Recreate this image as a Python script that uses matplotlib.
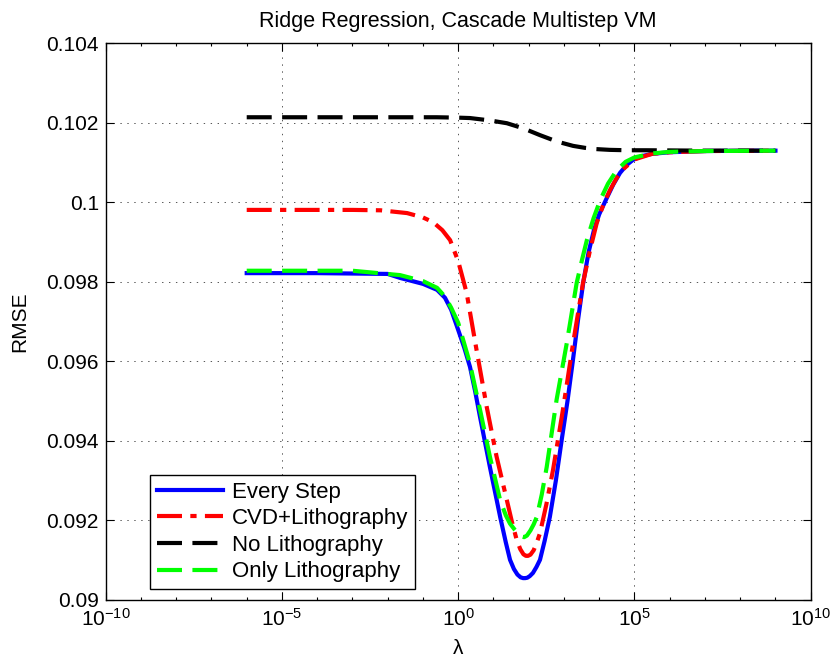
import matplotlib
matplotlib.use("Agg")
import matplotlib.pyplot as plt
import numpy as np
from matplotlib.ticker import FixedLocator, NullFormatter

plt.rcParams['font.family'] = ['Liberation Sans', 'DejaVu Sans']
plt.rcParams['mathtext.fontset'] = 'custom'
plt.rcParams['mathtext.rm'] = 'Liberation Sans'
plt.rcParams['mathtext.it'] = 'Liberation Sans:italic'
plt.rcParams['lines.scale_dashes'] = False

# ---- data (log10 lambda, RMSE) ----
every_x = [-6, -4, -2, -1.65, -1.0, -0.6, -0.375, -0.2, 0, 0.17, 0.335, 0.48, 0.62, 0.9,
           1.19, 1.35, 1.47, 1.58, 1.68, 1.77, 1.84, 1.9, 1.96, 2.03, 2.12, 2.22, 2.32,
           2.45, 2.6, 2.77, 2.94, 3.1, 3.25, 3.4, 3.55, 3.7, 3.85, 4.0, 4.21, 4.4, 4.59,
           4.78, 4.96, 5.2, 5.5, 6, 7, 8, 9]
every_y = [0.09822, 0.09822, 0.09820, 0.09810, 0.09795, 0.09780, 0.09760, 0.09730, 0.09679,
           0.09635, 0.09586, 0.09525, 0.09460, 0.09334, 0.09209, 0.09145, 0.09101, 0.09078,
           0.09064, 0.09057, 0.09055, 0.09055, 0.09056, 0.09060, 0.09068, 0.09083, 0.09101,
           0.09148, 0.09209, 0.09300, 0.09405, 0.09500, 0.09600, 0.09705, 0.09800, 0.09875,
           0.09930, 0.09970, 0.10010, 0.10045, 0.10074, 0.10094, 0.10107, 0.10116, 0.10122,
           0.10126, 0.10129, 0.10130, 0.10130]

cvd_x = [-6, -3, -2.2, -1.45, -1.0, -0.71, -0.45, -0.23, 0, 0.24, 0.52, 0.81, 1.09, 1.38,
         1.52, 1.66, 1.76, 1.85, 1.92, 1.98, 2.05, 2.14, 2.22, 2.32, 2.5, 2.69, 2.97, 3.26,
         3.54, 3.74, 3.93, 4.12, 4.3, 4.5, 4.7, 5.0, 5.5, 6, 7, 9]
cvd_y = [0.09981, 0.09981, 0.09980, 0.09973, 0.09962, 0.09950, 0.09930, 0.09905, 0.09852,
         0.09772, 0.09629, 0.09485, 0.09360, 0.09251, 0.09198, 0.09151, 0.09128, 0.09115,
         0.09111, 0.09111, 0.09114, 0.09125, 0.09142, 0.09168, 0.09240, 0.09327, 0.09478,
         0.09646, 0.09797, 0.09880, 0.09948, 0.09995, 0.10030, 0.10062, 0.10085, 0.10108,
         0.10122, 0.10126, 0.10129, 0.10130]

nolitho_x = [-6, -2, -0.61, 0, 0.335, 0.9, 1.38, 1.85, 2.32, 2.8, 3.26, 3.6, 3.9, 4.3,
             4.8, 5.35, 7, 9]
nolitho_y = [0.10214, 0.10214, 0.10214, 0.10213, 0.10212, 0.10206, 0.10199, 0.10186,
             0.10169, 0.10153, 0.10142, 0.10137, 0.10134, 0.10132, 0.10131, 0.10131,
             0.10130, 0.10130]

only_x = [-6, -3, -1.65, -1.0, -0.6, -0.375, -0.2, 0, 0.33, 0.62, 0.9, 1.19, 1.35, 1.47,
          1.61, 1.72, 1.8, 1.87, 1.95, 2.05, 2.14, 2.23, 2.37, 2.51, 2.79, 3.08, 3.36, 3.52,
          3.65, 3.84, 4.03, 4.25, 4.5, 4.75, 5.0, 5.5, 6, 7, 9]
only_y = [0.09828, 0.09828, 0.09817, 0.09802, 0.09785, 0.09763, 0.09735, 0.09697, 0.09596,
          0.09478, 0.09360, 0.09251, 0.09213, 0.09192, 0.09176, 0.09165, 0.09160, 0.09158,
          0.09162, 0.09175, 0.09190, 0.09209, 0.09265, 0.09334, 0.09503, 0.09646, 0.09797,
          0.09858, 0.09905, 0.09960, 0.10006, 0.10047, 0.10081, 0.10102, 0.10113, 0.10123,
          0.10127, 0.10129, 0.10130]

labels = ["Every Step", "CVD+Lithography", "No Lithography", "Only Lithography"]
y_ticks = [0.09, 0.092, 0.094, 0.096, 0.098, 0.1, 0.102, 0.104]
y_tick_labels = ["0.09", "0.092", "0.094", "0.096", "0.098", "0.1", "0.102", "0.104"]
x_ticks = [1e-10, 1e-5, 1e0, 1e5, 1e10]
x_tick_labels = [r"$10^{-10}$", r"$10^{-5}$", r"$10^{0}$", r"$10^{5}$", r"$10^{10}$"]

fig = plt.figure(figsize=(8.35, 6.61), dpi=100)
ax = fig.add_axes([0.1266, 0.0923, 0.8443, 0.8422])

lw = 3
ax.plot(10 ** np.array(every_x), every_y, color='#0000ff', lw=lw, ls='-', label=labels[0])
l2, = ax.plot(10 ** np.array(cvd_x), cvd_y, color='#ff0000', lw=lw, label=labels[1])
l2.set_dashes((18, 6, 4.5, 6))
l3, = ax.plot(10 ** np.array(nolitho_x), nolitho_y, color='black', lw=lw, label=labels[2])
l3.set_dashes((18, 7.5))
l4, = ax.plot(10 ** np.array(only_x), only_y, color='#00ff00', lw=lw, label=labels[3])
l4.set_dashes((18, 7.5))

ax.set_xscale('log')
ax.set_xlim(1e-10, 1e10)
ax.set_ylim(0.09, 0.104)
ax.xaxis.set_major_locator(FixedLocator(x_ticks))
ax.set_xticklabels(x_tick_labels)
ax.xaxis.set_minor_locator(FixedLocator([10.0 ** k for k in range(-10, 11)]))
ax.xaxis.set_minor_formatter(NullFormatter())
ax.set_yticks(y_ticks)
ax.set_yticklabels(y_tick_labels)

ax.tick_params(axis='both', which='major', direction='in', length=6, width=0.8,
               top=True, right=True, labelsize=15, pad=5)
ax.tick_params(axis='x', which='major', pad=6)
ax.tick_params(axis='x', which='minor', direction='in', length=2.5, width=0.8,
               top=True, bottom=True)
for s in ax.spines.values():
    s.set_linewidth(1.0)
    s.set_color('black')

ax.grid(True, which='major', color='#555555', linestyle=(0, (1, 4)), linewidth=0.7)

ax.set_title("Ridge Regression, Cascade Multistep VM", fontsize=15.5, pad=12)
ax.set_xlabel("λ", fontsize=15, labelpad=6)
ax.set_ylabel("RMSE", fontsize=15, labelpad=12)

leg = ax.legend(loc='lower left', bbox_to_anchor=(0.0628, 0.0198), borderaxespad=0,
                fontsize=16, handlelength=3.0, fancybox=False, framealpha=1,
                edgecolor='black', borderpad=0.3, labelspacing=0.25, handletextpad=0.4)
leg.get_frame().set_linewidth(1.0)

fig.savefig("out.png", dpi=100)
